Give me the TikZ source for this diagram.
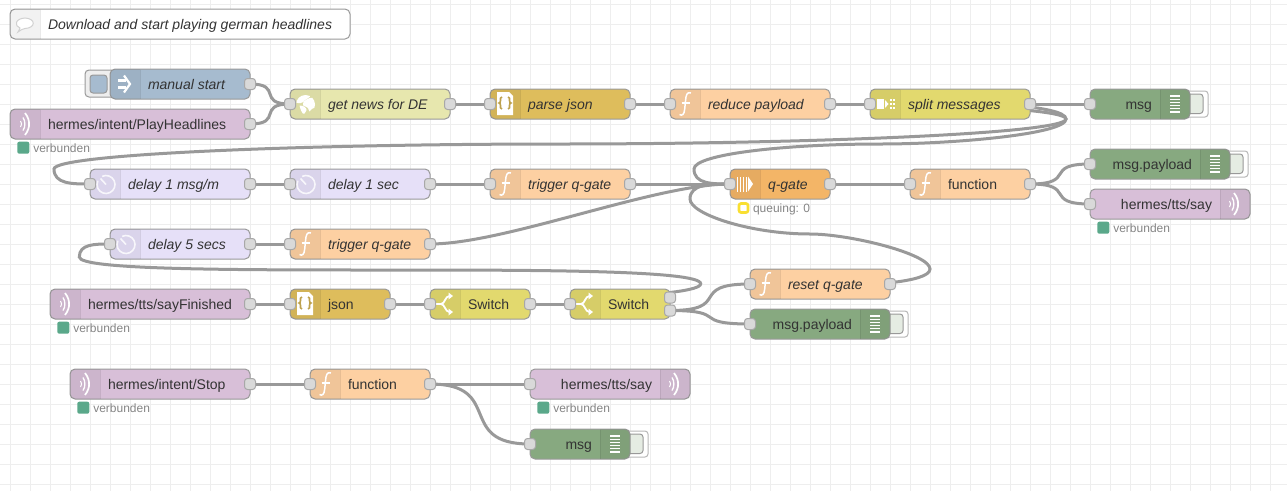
\documentclass[tikz,border=0pt]{standalone}
\usepackage{fontspec}
\setmainfont{Liberation Sans}
\usetikzlibrary{calc}
\pgfdeclarelayer{under}
\pgfsetlayers{under,main}
\definecolor{nrline}{HTML}{999999}
\definecolor{nrtext}{HTML}{333333}
\definecolor{nrport}{HTML}{D9D9D9}
\definecolor{nrgrid}{HTML}{EEEEEE}
\definecolor{cMqtt}{HTML}{D8BFD8}
\definecolor{cInject}{HTML}{A6BBCF}
\definecolor{cHttp}{HTML}{E7E7AE}
\definecolor{cJson}{HTML}{DEBD5C}
\definecolor{cFunc}{HTML}{FDD0A2}
\definecolor{cSwitch}{HTML}{E2D96E}
\definecolor{cDebug}{HTML}{87A980}
\definecolor{cDelay}{HTML}{E6E0F8}
\definecolor{cGate}{HTML}{F3B567}
\definecolor{cOk}{HTML}{5AA88A}
\definecolor{cWarn}{HTML}{F9DF31}
\tikzset{
  nrbox/.style={draw=nrline,line width=1pt,rounded corners=5pt,inner sep=0pt,outer sep=0pt},
  nrpin/.style={draw=nrline!85!white,fill=nrport,line width=1pt,rounded corners=3pt,inner sep=0pt,outer sep=0pt,minimum width=11pt,minimum height=11pt},
  wire/.style={draw=nrline,line width=3pt},
  lbl/.style={text=nrtext,inner sep=0pt,outer sep=0pt,font=\fontsize{14}{16}\selectfont},
  stat/.style={text=nrline!120!white,inner sep=0pt,outer sep=0pt,font=\fontsize{12}{14}\selectfont,anchor=base west},
  panel/.style={black,fill opacity=.05},
  sep/.style={draw=black,draw opacity=.08,line width=1pt},
  ico/.style={white,line width=1.5pt}
}
% name x1 x2 yc colour
\newcommand\nr[5]{%
  \pgfmathsetmacro\nrcx{(#2+#3)/2}\pgfmathsetmacro\nrw{#3-#2}%
  \node[nrbox,fill=#5,minimum width=\nrw pt,minimum height=30pt] (#1) at (\nrcx,#4) {};}
\newcommand\panL[2]{%
  \fill[panel] (#1+30,#2-15) [rounded corners=5pt] -- (#1,#2-15) -- (#1,#2+15) [sharp corners] -- (#1+30,#2+15) -- cycle;
  \draw[sep] (#1+30,#2-14.5) -- (#1+30,#2+14.5);}
\newcommand\panR[2]{%
  \fill[panel] (#1-30,#2-15) [rounded corners=5pt] -- (#1,#2-15) -- (#1,#2+15) [sharp corners] -- (#1-30,#2+15) -- cycle;
  \draw[sep] (#1-30,#2-14.5) -- (#1-30,#2+14.5);}
\newcommand\pin[3]{\node[nrpin] (#1) at (#2,#3) {};}
\newcommand\lab[5]{\node[lbl,anchor=base #4] (#1) at (#2,#3) {#5};}
\newcommand\wireS[3]{\draw[wire] (#1.center) .. controls ($(#1.center)+(#3,0)$) and ($(#2.center)-(#3,0)$) .. (#2.center);}
\newcommand\wireL[2]{\draw[wire] (#1.center) -- (#2.center);}
% icons
\newcommand\icoRadio[2]{\begin{scope}[shift={(#1,#2)}]
  \draw[white,line width=1pt] (-4.5,-3) .. controls (-3,-1.5) and (-3,1.5) .. (-4.5,3);
  \draw[white,line width=1.3pt] (-2,-6.5) .. controls (.5,-3) and (.5,3) .. (-2,6.5);
  \draw[white,line width=1.7pt] (0,-11) .. controls (5.5,-4) and (5.5,4) .. (0,11);
\end{scope}}
\newcommand\icoFunc[2]{\begin{scope}[shift={(#1,#2)}]
  \draw[ico] (6,-11) .. controls (2,-12.5) and (1,-9) .. (.5,-3) -- (-.3,5) .. controls (-.8,11) and (-3,12) .. (-5.5,10.5);
  \draw[ico] (-3.5,-1) -- (4.5,-1);
\end{scope}}
\newcommand\icoClock[2]{\begin{scope}[shift={(#1,#2)}]
  \draw[white,opacity=.8,line width=1.6pt] (115:9pt) arc[start angle=115,end angle=-205,radius=9pt];
  \draw[white,opacity=.8,line width=1.6pt] (0,0) -- (-5.5,-6);
\end{scope}}
\newcommand\icoJson[3]{\begin{scope}[shift={(#1,#2)}]
  \fill[white] (-8,-12) -- (4,-12) -- (8,-8) -- (8,11) -- (-8,11) -- cycle;
  \draw[#3!85!black,line width=1.6pt] (-3,-7) .. controls (-5,-7) and (-4.5,-5) .. (-4.5,-3.5) .. controls (-4.5,-2) and (-5,-1) .. (-6,-1) .. controls (-5,-1) and (-4.5,0) .. (-4.5,1.5) .. controls (-4.5,3) and (-5,5) .. (-3,5);
  \draw[#3!85!black,line width=1.6pt] (3,-7) .. controls (5,-7) and (4.5,-5) .. (4.5,-3.5) .. controls (4.5,-2) and (5,-1) .. (6,-1) .. controls (5,-1) and (4.5,0) .. (4.5,1.5) .. controls (4.5,3) and (5,5) .. (3,5);
\end{scope}}
\newcommand\icoSwitch[2]{\begin{scope}[shift={(#1,#2)}]
  \draw[white,line width=1.8pt] (-9,0) -- (-4,0) .. controls (0,0) and (0,-8) .. (4.5,-8);
  \draw[white,line width=1.8pt] (-4,0) .. controls (0,0) and (0,8) .. (4.5,8);
  \fill[white] (3.5,-11.5) -- (8,-8) -- (3.5,-4.5) -- cycle;
  \fill[white] (3.5,11.5) -- (8,8) -- (3.5,4.5) -- cycle;
\end{scope}}
\newcommand\icoDebug[2]{\begin{scope}[shift={(#1,#2)}]
  \foreach \v in {-8,-4.8,-1.6,1.6,4.8,8} {\draw[white,line width=1.3pt] (-5,\v) -- (5,\v);}
\end{scope}}
\newcommand\stOk[3]{\fill[cOk,rounded corners=2pt] (#1-6,#2-6) rectangle (#1+6,#2+6);
  \node[stat] at (#1+10,#2+4.7) {#3};}
\newcommand\btnDebug[2]{% x (right edge of node) y
  \draw[draw=nrline!70!white,fill=white,line width=1pt,rounded corners=3pt] (#1-5,#2-13) rectangle (#1+18,#2+13);
  \draw[draw=nrline,fill=cDebug!22!white,line width=1pt,rounded corners=3pt] (#1-5,#2-10) rectangle (#1+13,#2+9.5);}
\begin{document}
\begin{tikzpicture}[x=1pt,y=-1pt]
\useasboundingbox (0,0) rectangle (1287,491);
\begin{pgfonlayer}{under}
\fill[white] (0,0) rectangle (1287,491);
\foreach \gx in {10,30,...,1270} {\draw[nrgrid,line width=1pt] (\gx,0) -- (\gx,491);}
\foreach \gy in {4,24,...,484} {\draw[nrgrid,line width=1pt] (0,\gy) -- (1287,\gy);}
\end{pgfonlayer}

% comment
\nr{note}{10}{350}{24}{white}
\fill[black,fill opacity=.05] (40,9) [rounded corners=5pt] -- (10,9) -- (10,39) [sharp corners] -- (40,39) -- cycle;
\draw[sep] (40,9.5) -- (40,38.5);
\draw[draw=nrline!45!white,fill=white,line width=1pt] (18,32) .. controls (19,30) and (20,29) .. (20,28) .. controls (14,26) and (15,18.5) .. (25,18) .. controls (36,18.5) and (36,28) .. (25,28.5) .. controls (23,28.5) and (21,30) .. (18,32) -- cycle;
\lab{noteL}{48}{29}{west}{\itshape Download and start playing german headlines}

% manual start
\draw[draw=nrline,fill=nrgrid,line width=1pt,rounded corners=4pt] (85,70) rectangle (115,97);
\draw[draw=nrline,fill=cInject,line width=1pt,rounded corners=3pt] (90,75) rectangle (107,93);
\nr{inj}{110}{250}{84}{cInject}\panL{110}{84}
\begin{scope}[shift={(125,84)}]
  \fill[white] (-7,-5) rectangle (1,-1.8);
  \fill[white] (-7,1.8) rectangle (1,5);
  \draw[white,line width=2.2pt] (-1,-8.5) -- (5,0) -- (-1,8.5);
\end{scope}
\lab{injL}{148}{89}{west}{\itshape manual start}
\pin{inj-o}{250}{84}

% PlayHeadlines
\nr{play}{10}{250}{124}{cMqtt}\panL{10}{124}\icoRadio{25}{124}
\lab{playL}{48}{129}{west}{hermes/intent/PlayHeadlines}
\pin{play-o}{250}{124}
\stOk{23.3}{147.7}{verbunden}

% get news
\nr{news}{290}{450}{104}{cHttp}\panL{290}{104}
\begin{scope}[shift={(305.5,104.5)}]
  \begin{scope}
  \clip (0,0) circle[radius=9.5pt];
  \fill[white] (-10,-2) .. controls (-7,-10) and (0,-11) .. (6,-10) .. controls (4,-6) and (1,-6) .. (-1,-4) .. controls (-3,-1) and (-6,-1) .. (-10,-2) -- cycle;
  \fill[white] (-2,-3) .. controls (2,-6) and (6,-8) .. (10,-6) -- (10,3) .. controls (7,3) and (6,5) .. (4,7) .. controls (3,4) and (2,2) .. (0,2) .. controls (-3,2) and (-3,-1) .. (-2,-3) -- cycle;
  \fill[white] (-6,1) .. controls (-2,1) and (1,3) .. (1,5.5) .. controls (1,7.5) and (-1,8) .. (-2,10) .. controls (-4,8) and (-5,5) .. (-6,1) -- cycle;
  \end{scope}
\end{scope}
\lab{newsL}{328}{109}{west}{\itshape get news for DE}
\pin{news-i}{290}{104}\pin{news-o}{450}{104}

% parse json
\nr{pj}{490}{630}{104}{cJson}\panL{490}{104}\icoJson{505}{104}{cJson}
\lab{pjL}{528}{109}{west}{\itshape parse json}
\pin{pj-i}{490}{104}\pin{pj-o}{630}{104}

% reduce payload
\nr{red}{670}{830}{104}{cFunc}\panL{670}{104}\icoFunc{685}{104}
\lab{redL}{708}{109}{west}{\itshape reduce payload}
\pin{red-i}{670}{104}\pin{red-o}{830}{104}

% split
\nr{spl}{870}{1030}{104}{cSwitch}\panL{870}{104}
\begin{scope}[shift={(885,104)}]
  \fill[white] (-8.5,-5) rectangle (-1.5,5);
  \fill[white] (0,-4) -- (3.5,0) -- (0,4) -- cycle;
  \foreach \dx in {5.5,8.8} {\foreach \dy in {-4,0,4} {\fill[white] (\dx-1,\dy-1) rectangle (\dx+1,\dy+1);}}
\end{scope}
\lab{splL}{908}{109}{west}{\itshape split messages}
\pin{spl-i}{870}{104}\pin{spl-o}{1030}{104}

% msg (top)
\btnDebug{1190}{104}
\nr{dbgA}{1090}{1190}{104}{cDebug}\panR{1190}{104}\icoDebug{1175}{104}
\lab{dbgAL}{1152}{109}{east}{msg}
\pin{dbgA-i}{1090}{104}

% delay row
\nr{dlA}{90}{250}{184}{cDelay}\panL{90}{184}\icoClock{106}{184.5}
\lab{dlAL}{128}{189}{west}{\itshape delay 1 msg/m}
\pin{dlA-i}{90}{184}\pin{dlA-o}{250}{184}

\nr{dlB}{290}{430}{184}{cDelay}\panL{290}{184}\icoClock{306}{184.5}
\lab{dlBL}{328}{189}{west}{\itshape delay 1 sec}
\pin{dlB-i}{290}{184}\pin{dlB-o}{430}{184}

\nr{trA}{490}{630}{184}{cFunc}\panL{490}{184}\icoFunc{505}{184}
\lab{trAL}{528}{189}{west}{\itshape trigger q-gate}
\pin{trA-i}{490}{184}\pin{trA-o}{630}{184}

% q-gate
\nr{qg}{730}{830}{184}{cGate}\panL{730}{184}
\begin{scope}[shift={(745,184)}]
  \foreach \bx in {-7.5,-4.5,-1.5,1.5} {\fill[white] (\bx-.9,-7.5) rectangle (\bx+.9,7.5);}
  \fill[white] (3,-7.5) -- (8,0) -- (3,7.5) -- cycle;
\end{scope}
\lab{qgL}{768}{189}{west}{\itshape q-gate}
\pin{qg-i}{730}{184}\pin{qg-o}{830}{184}
\draw[cWarn,fill=white,line width=2.6pt,rounded corners=2pt] (739,203.5) rectangle (748,212.5);
\node[stat] at (753,212.7) {queuing: 0};

% function
\nr{fnA}{910}{1030}{184}{cFunc}\panL{910}{184}\icoFunc{925}{184}
\lab{fnAL}{948}{189}{west}{function}
\pin{fnA-i}{910}{184}\pin{fnA-o}{1030}{184}

% msg.payload
\btnDebug{1230}{164}
\nr{dbgB}{1090}{1230}{164}{cDebug}\panR{1230}{164}\icoDebug{1215}{164}
\lab{dbgBL}{1192}{169}{east}{msg.payload}
\pin{dbgB-i}{1090}{164}

% tts say
\nr{ttsA}{1090}{1250}{204}{cMqtt}\panR{1250}{204}\icoRadio{1234}{204}
\lab{ttsAL}{1212}{209}{east}{hermes/tts/say}
\pin{ttsA-i}{1090}{204}
\stOk{1103.3}{227.7}{verbunden}

% delay 5 secs
\nr{dlC}{110}{250}{244}{cDelay}\panL{110}{244}\icoClock{126}{244.5}
\lab{dlCL}{148}{249}{west}{\itshape delay 5 secs}
\pin{dlC-i}{110}{244}\pin{dlC-o}{250}{244}

\nr{trB}{290}{430}{244}{cFunc}\panL{290}{244}\icoFunc{305}{244}
\lab{trBL}{328}{249}{west}{\itshape trigger q-gate}
\pin{trB-i}{290}{244}\pin{trB-o}{430}{244}

% sayFinished row
\nr{fin}{50}{250}{304}{cMqtt}\panL{50}{304}\icoRadio{65}{304}
\lab{finL}{88}{309}{west}{hermes/tts/sayFinished}
\pin{fin-o}{250}{304}
\stOk{63.3}{327.7}{verbunden}

\nr{js}{290}{390}{304}{cJson}\panL{290}{304}\icoJson{305}{304}{cJson}
\lab{jsL}{328}{309}{west}{json}
\pin{js-i}{290}{304}\pin{js-o}{390}{304}

\nr{swA}{430}{530}{304}{cSwitch}\panL{430}{304}\icoSwitch{445}{304}
\lab{swAL}{468}{309}{west}{Switch}
\pin{swA-i}{430}{304}\pin{swA-o}{530}{304}

\nr{swB}{570}{670}{304}{cSwitch}\panL{570}{304}\icoSwitch{585}{304}
\lab{swBL}{608}{309}{west}{Switch}
\pin{swB-i}{570}{304}\pin{swB-a}{670}{297.5}\pin{swB-b}{670}{310.5}

\nr{rs}{750}{890}{284}{cFunc}\panL{750}{284}\icoFunc{765}{284}
\lab{rsL}{788}{289}{west}{\itshape reset q-gate}
\pin{rs-i}{750}{284}\pin{rs-o}{890}{284}

\btnDebug{890}{324}
\nr{dbgC}{750}{890}{324}{cDebug}\panR{890}{324}\icoDebug{875}{324}
\lab{dbgCL}{852}{329}{east}{msg.payload}
\pin{dbgC-i}{750}{324}

% bottom flow
\nr{stp}{70}{250}{384}{cMqtt}\panL{70}{384}\icoRadio{85}{384}
\lab{stpL}{108}{389}{west}{hermes/intent/Stop}
\pin{stp-o}{250}{384}
\stOk{83.3}{407.7}{verbunden}

\nr{fnB}{310}{430}{384}{cFunc}\panL{310}{384}\icoFunc{325}{384}
\lab{fnBL}{348}{389}{west}{function}
\pin{fnB-i}{310}{384}\pin{fnB-o}{430}{384}

\nr{ttsB}{530}{690}{384}{cMqtt}\panR{690}{384}\icoRadio{674}{384}
\lab{ttsBL}{652}{389}{east}{hermes/tts/say}
\pin{ttsB-i}{530}{384}
\stOk{543.3}{407.7}{verbunden}

\btnDebug{630}{444}
\nr{dbgD}{530}{630}{444}{cDebug}\panR{630}{444}\icoDebug{615}{444}
\lab{dbgDL}{592}{449}{east}{msg}
\pin{dbgD-i}{530}{444}

% connectors
\begin{pgfonlayer}{under}
\wireS{inj-o}{news-i}{33.5}
\wireS{play-o}{news-i}{33.5}
\wireL{news-o}{pj-i}
\wireL{pj-o}{red-i}
\wireL{red-o}{spl-i}
\wireL{spl-o}{dbgA-i}
\draw[wire] (spl-o.center) .. controls (795,104) and (1066,104) .. (1066,119) .. controls (1066,134) and (795,144) .. (560,144) .. controls (307,144) and (54,154) .. (54,169) .. controls (54,184) and (72,184) .. (dlA-i.center);
\draw[wire] (spl-o.center) .. controls (955,104) and (1066,104) .. (1066,119) .. controls (1066,134) and (955,144) .. (880,144) .. controls (787,144) and (694,154) .. (694,169) .. controls (694,184) and (712,184) .. (qg-i.center);
\wireL{dlA-o}{dlB-i}
\wireL{dlB-o}{trA-i}
\wireL{trA-o}{qg-i}
\wireL{qg-o}{fnA-i}
\wireS{fnA-o}{dbgB-i}{47.4}
\wireS{fnA-o}{ttsA-i}{47.4}
\wireL{dlC-o}{trB-i}
\wireS{trB-o}{qg-i}{75}
\wireL{fin-o}{js-i}
\wireL{js-o}{swA-i}
\wireL{swA-o}{swB-i}
\draw[wire] (swB-a.center) .. controls (530,297.5) and (700.7,297.5) .. (700.7,283.75) .. controls (700.7,270) and (530,270) .. (390,270) .. controls (234.6,270) and (79.3,270) .. (79.3,257) .. controls (79.3,244) and (94.6,244) .. (dlC-i.center);
\wireS{swB-b}{rs-i}{63.2}
\wireS{swB-b}{dbgC-i}{60.8}
\draw[wire] (rs-o.center) .. controls (850,284) and (930,284) .. (930,269) .. controls (930,254) and (850,234) .. (810,234) .. controls (750,234) and (690,214) .. (690,199) .. controls (690,184) and (710,184) .. (qg-i.center);
\wireL{stp-o}{fnB-i}
\wireL{fnB-o}{ttsB-i}
\wireS{fnB-o}{dbgD-i}{75}
\end{pgfonlayer}
\end{tikzpicture}
\end{document}
